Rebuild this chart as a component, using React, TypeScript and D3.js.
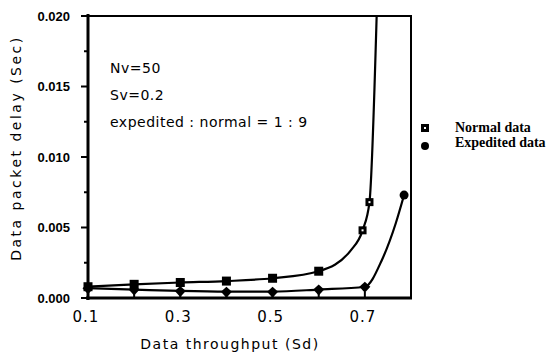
import React from 'react';
import * as d3 from 'd3';

// throughput (Sd) vs delay (sec); "mark" says if a symbol is drawn on that point
const normalX = [0.1, 0.2, 0.3, 0.4, 0.5, 0.6, 0.67, 0.695, 0.71, 0.726];
const normalY = [0.0008, 0.00097, 0.0011, 0.0012, 0.0014, 0.0019, 0.0034, 0.0048, 0.0068, 0.0205];
const normalMark = [1, 1, 1, 1, 1, 1, 0, 2, 2, 0];

const expX = [0.1, 0.2, 0.3, 0.4, 0.5, 0.6, 0.7, 0.737, 0.767, 0.785];
const expY = [0.0007, 0.0006, 0.0005, 0.00045, 0.00045, 0.0006, 0.0008, 0.0027, 0.0053, 0.0073];
const expMark = [1, 1, 1, 1, 1, 1, 1, 0, 0, 2];

const xTickLabels = [0.1, 0.3, 0.5, 0.7];
const xTicks = [0.1, 0.2, 0.3, 0.4, 0.5, 0.6, 0.7];
const yTicks = [0, 0.005, 0.01, 0.015, 0.02];
const yMinor = [0.0025, 0.0075, 0.0125, 0.0175];

const notes = ['Nv=50', 'Sv=0.2', 'expedited : normal = 1 : 9'];
const legendNames = ['Normal data', 'Expedited data'];

const W = 550, H = 354;
const left = 88, right = 411, top = 16, bottom = 298;

const App = () => {
  const x = d3.scaleLinear().domain([0.1, 0.8]).range([left, right]);
  const y = d3.scaleLinear().domain([0, 0.02]).range([bottom, top]);

  const line = d3.line<number>()
    .x(d => x(d[0]))
    .y(d => y(d[1]))
    .curve(d3.curveMonotoneX);

  const normalPts = normalX.map((v, i) => [v, normalY[i]]);
  const expPts = expX.map((v, i) => [v, expY[i]]);

  const diamond = (cx, cy) => `M${cx},${cy - 5}L${cx + 5.5},${cy}L${cx},${cy + 6}L${cx - 5.5},${cy}Z`;

  const sans = 'DejaVu Sans, Verdana, sans-serif';

  return (
    <svg width={W} height={H} style={{ position: 'absolute', left: 0, top: 0, background: '#fff' }}>
      <defs>
        <clipPath id="plot">
          <rect x={left} y={top} width={right - left} height={bottom - top} />
        </clipPath>
      </defs>

      {/* frame */}
      <rect x={left} y={top} width={right - left} height={bottom - top} fill="none" stroke="#000" strokeWidth={2} />
      <line x1={left} x2={left} y1={top - 2} y2={bottom + 2} stroke="#000" strokeWidth={3} />
      <line x1={left - 2} x2={right + 1} y1={bottom} y2={bottom} stroke="#000" strokeWidth={3} />

      {/* y ticks */}
      {yTicks.map(t => (
        <g key={t}>
          <line x1={left - 7} x2={left} y1={y(t)} y2={y(t)} stroke="#000" strokeWidth={2} />
          <text x={70} y={y(t)} dy="0.35em" textAnchor="end" fontFamily="Liberation Sans, Arial, sans-serif"
            fontWeight="bold" fontSize={13}>{d3.format('.3f')(t)}</text>
        </g>
      ))}
      {yMinor.map(t => (
        <line key={t} x1={left - 4} x2={left} y1={y(t)} y2={y(t)} stroke="#000" strokeWidth={2} />
      ))}

      {/* x ticks */}
      {xTicks.map(t => (
        <line key={t} x1={x(t)} x2={x(t)} y1={bottom} y2={bottom - 6} stroke="#000" strokeWidth={2} />
      ))}
      {xTickLabels.map(t => (
        <text key={t} x={x(t) - 2} y={322} textAnchor="middle" fontFamily={sans} fontSize={15}
          letterSpacing={1}>{d3.format('.1f')(t)}</text>
      ))}

      {/* axis titles */}
      <text x={230} y={349} textAnchor="middle" fontFamily={sans} fontSize={14} letterSpacing={1.5}>
        Data throughput (Sd)
      </text>
      <text transform={`translate(21,${148}) rotate(-90)`} textAnchor="middle" fontFamily={sans}
        fontSize={14} letterSpacing={2.5}>Data packet delay (Sec)</text>

      {/* notes */}
      {notes.map((n, i) => (
        <text key={n} x={110} y={73 + i * 27} fontFamily={sans} fontSize={14} letterSpacing={0.5}>{n}</text>
      ))}

      {/* lines */}
      <g clipPath="url(#plot)">
        <path d={line(normalPts)} fill="none" stroke="#000" strokeWidth={2.2} />
        <path d={line(expPts)} fill="none" stroke="#000" strokeWidth={2.2} />
      </g>

      {/* markers */}
      {normalPts.map((p, i) => normalMark[i] === 1 ? (
        <rect key={i} x={x(p[0]) - 4.5} y={y(p[1]) - 4.5} width={9} height={9} fill="#000" />
      ) : normalMark[i] === 2 ? (
        <g key={i}>
          <rect x={x(p[0]) - 4} y={y(p[1]) - 4} width={8} height={8} fill="#000" />
          <rect x={x(p[0]) - 1} y={y(p[1]) - 1} width={2} height={2} fill="#fff" />
        </g>
      ) : null)}
      {expPts.map((p, i) => expMark[i] === 1 ? (
        <path key={i} d={diamond(x(p[0]), y(p[1]))} fill="#000" />
      ) : expMark[i] === 2 ? (
        <circle key={i} cx={x(p[0])} cy={y(p[1])} r={4.5} fill="#000" />
      ) : null)}

      {/* legend */}
      <rect x={421} y={124} width={8} height={8} fill="#000" />
      <rect x={424} y={127} width={2} height={2} fill="#fff" />
      <circle cx={425} cy={146} r={4} fill="#000" />
      {legendNames.map((n, i) => (
        <text key={n} x={455} y={132 + i * 15} fontFamily="Liberation Serif, Times New Roman, serif"
          fontWeight="bold" fontSize={14}>{n}</text>
      ))}
    </svg>
  );
};

export default App;
